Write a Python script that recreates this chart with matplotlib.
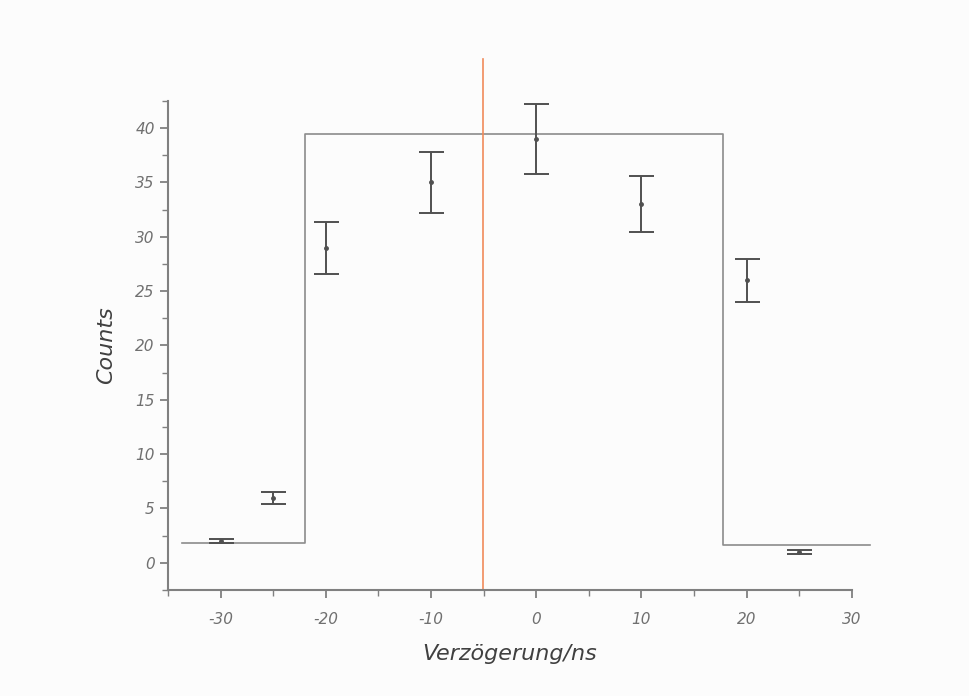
import matplotlib
matplotlib.use("Agg")
import matplotlib.pyplot as plt
from matplotlib.ticker import MultipleLocator

plt.rcParams["axes.unicode_minus"] = False

# Data
delay = [-30, -25, -20, -10, 0, 10, 20, 25]
counts = [2.0, 6.0, 29.0, 35.0, 39.0, 33.0, 26.0, 1.0]
errors = [0.15, 0.55, 2.4, 2.8, 3.2, 2.6, 2.0, 0.2]

step_x = [-33.7, -22.0, -22.0, 17.8, 17.8, 31.7]
step_y = [1.85, 1.85, 39.5, 39.5, 1.65, 1.65]

red_line_x = -5.1

fig = plt.figure(figsize=(9.69, 6.96), dpi=100)
fig.patch.set_facecolor("#fcfcfc")
ax = fig.add_axes([0.1734, 0.1523, 0.7057, 0.7027])
ax.set_facecolor("#fcfcfc")

ax.plot(step_x, step_y, color="#8c8c8c", lw=1.2, clip_on=False)
ax.plot([red_line_x, red_line_x], [-2.5, 46.4], color="#f08a5a", lw=1.2, clip_on=False)
ax.errorbar(delay, counts, yerr=errors, fmt="o", ms=2.5, color="#505050",
            ecolor="#505050", elinewidth=1.4, capsize=9, capthick=1.4)

ax.set_xlim(-35, 30)
ax.set_ylim(-2.5, 42.5)
ax.xaxis.set_major_locator(MultipleLocator(10))
ax.xaxis.set_minor_locator(MultipleLocator(5))
ax.yaxis.set_major_locator(MultipleLocator(5))
ax.yaxis.set_minor_locator(MultipleLocator(2.5))

for s in ["top", "right"]:
    ax.spines[s].set_visible(False)
for s in ["left", "bottom"]:
    ax.spines[s].set_color("#808080")
    ax.spines[s].set_linewidth(1.5)

ax.tick_params(which="major", length=6, width=1.3, color="#808080",
               labelsize=11, labelcolor="#707070", direction="out")
ax.tick_params(which="minor", length=4, width=1.0, color="#808080", direction="out")
for lbl in ax.get_xticklabels() + ax.get_yticklabels():
    lbl.set_fontstyle("italic")
ax.tick_params(axis="x", pad=10)

ax.set_xlabel("Verzögerung/ns", fontsize=16, fontstyle="italic", color="#404040", labelpad=12)
ax.set_ylabel("Counts", fontsize=16, fontstyle="italic", color="#404040", labelpad=14)

fig.savefig("out.png", dpi=100, facecolor=fig.get_facecolor())
